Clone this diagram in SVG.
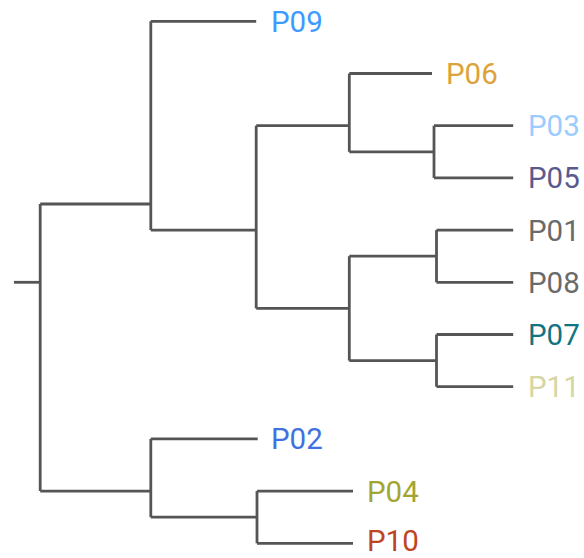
<svg xmlns="http://www.w3.org/2000/svg" width="584" height="558" viewBox="0 0 584 558">
  <style>
    .edge { fill: none; stroke: #555555; stroke-width: 2.8; stroke-linecap: butt; stroke-linejoin: miter; }
    .leaf text { font-family: Roboto, "Liberation Sans", Arial, sans-serif; font-size: 29.5px; }
  </style>
  <rect width="584" height="558" fill="#ffffff"/>
  <!-- tree branches: each path is one elbow from a parent split down to a child -->
  <g id="connectors">
    <!-- root stub and root split -->
    <path class="edge" d="M14,282.3 H40.2"/>
    <path class="edge" d="M40.2,204 V491.1"/>
    <!-- upper clade -->
    <path class="edge" d="M40.2,204 H150.8"/>
    <path class="edge" d="M150.8,21.3 V230.1"/>
    <path class="edge" d="M150.8,21.3 H256.2"/>
    <path class="edge" d="M150.8,230.1 H256.2"/>
    <path class="edge" d="M256.2,125.7 V308.4"/>
    <path class="edge" d="M256.2,125.7 H349.3"/>
    <path class="edge" d="M349.3,73.5 V151.8"/>
    <path class="edge" d="M349.3,73.5 H432"/>
    <path class="edge" d="M349.3,151.8 H434"/>
    <path class="edge" d="M434,125.7 V177.9"/>
    <path class="edge" d="M434,125.7 H513.2"/>
    <path class="edge" d="M434,177.9 H513.2"/>
    <path class="edge" d="M256.2,308.4 H349.3"/>
    <path class="edge" d="M349.3,256.2 V360.6"/>
    <path class="edge" d="M349.3,256.2 H436.5"/>
    <path class="edge" d="M436.5,230.1 V282.3"/>
    <path class="edge" d="M436.5,230.1 H513.2"/>
    <path class="edge" d="M436.5,282.3 H513.2"/>
    <path class="edge" d="M349.3,360.6 H436.5"/>
    <path class="edge" d="M436.5,334.5 V386.7"/>
    <path class="edge" d="M436.5,334.5 H513.2"/>
    <path class="edge" d="M436.5,386.7 H513.2"/>
    <!-- lower clade -->
    <path class="edge" d="M40.2,491.1 H150.8"/>
    <path class="edge" d="M150.8,438.9 V517.2"/>
    <path class="edge" d="M150.8,438.9 H257.7"/>
    <path class="edge" d="M150.8,517.2 H257"/>
    <path class="edge" d="M257,491.1 V543.3"/>
    <path class="edge" d="M257,491.1 H353"/>
    <path class="edge" d="M257,543.3 H353"/>
  </g>
  <!-- leaf labels -->
  <g id="P09" class="leaf"><text x="271" y="31.8" fill="#3d9bff">P09</text></g>
  <g id="P06" class="leaf"><text x="446" y="84" fill="#dda23a">P06</text></g>
  <g id="P03" class="leaf"><text x="528" y="136.2" fill="#9ccbff">P03</text></g>
  <g id="P05" class="leaf"><text x="528" y="188.4" fill="#5a5a8e">P05</text></g>
  <g id="P01" class="leaf"><text x="528" y="240.6" fill="#6a6a6a">P01</text></g>
  <g id="P08" class="leaf"><text x="528" y="292.8" fill="#6a6a6a">P08</text></g>
  <g id="P07" class="leaf"><text x="528" y="345" fill="#127483">P07</text></g>
  <g id="P11" class="leaf"><text x="528" y="397.2" fill="#d6d6a2">P11</text></g>
  <g id="P02" class="leaf"><text x="271" y="449.4" fill="#3f72e0">P02</text></g>
  <g id="P04" class="leaf"><text x="367" y="501.6" fill="#a3a532">P04</text></g>
  <g id="P10" class="leaf"><text x="367" y="550.8" fill="#bf4424">P10</text></g>
</svg>
